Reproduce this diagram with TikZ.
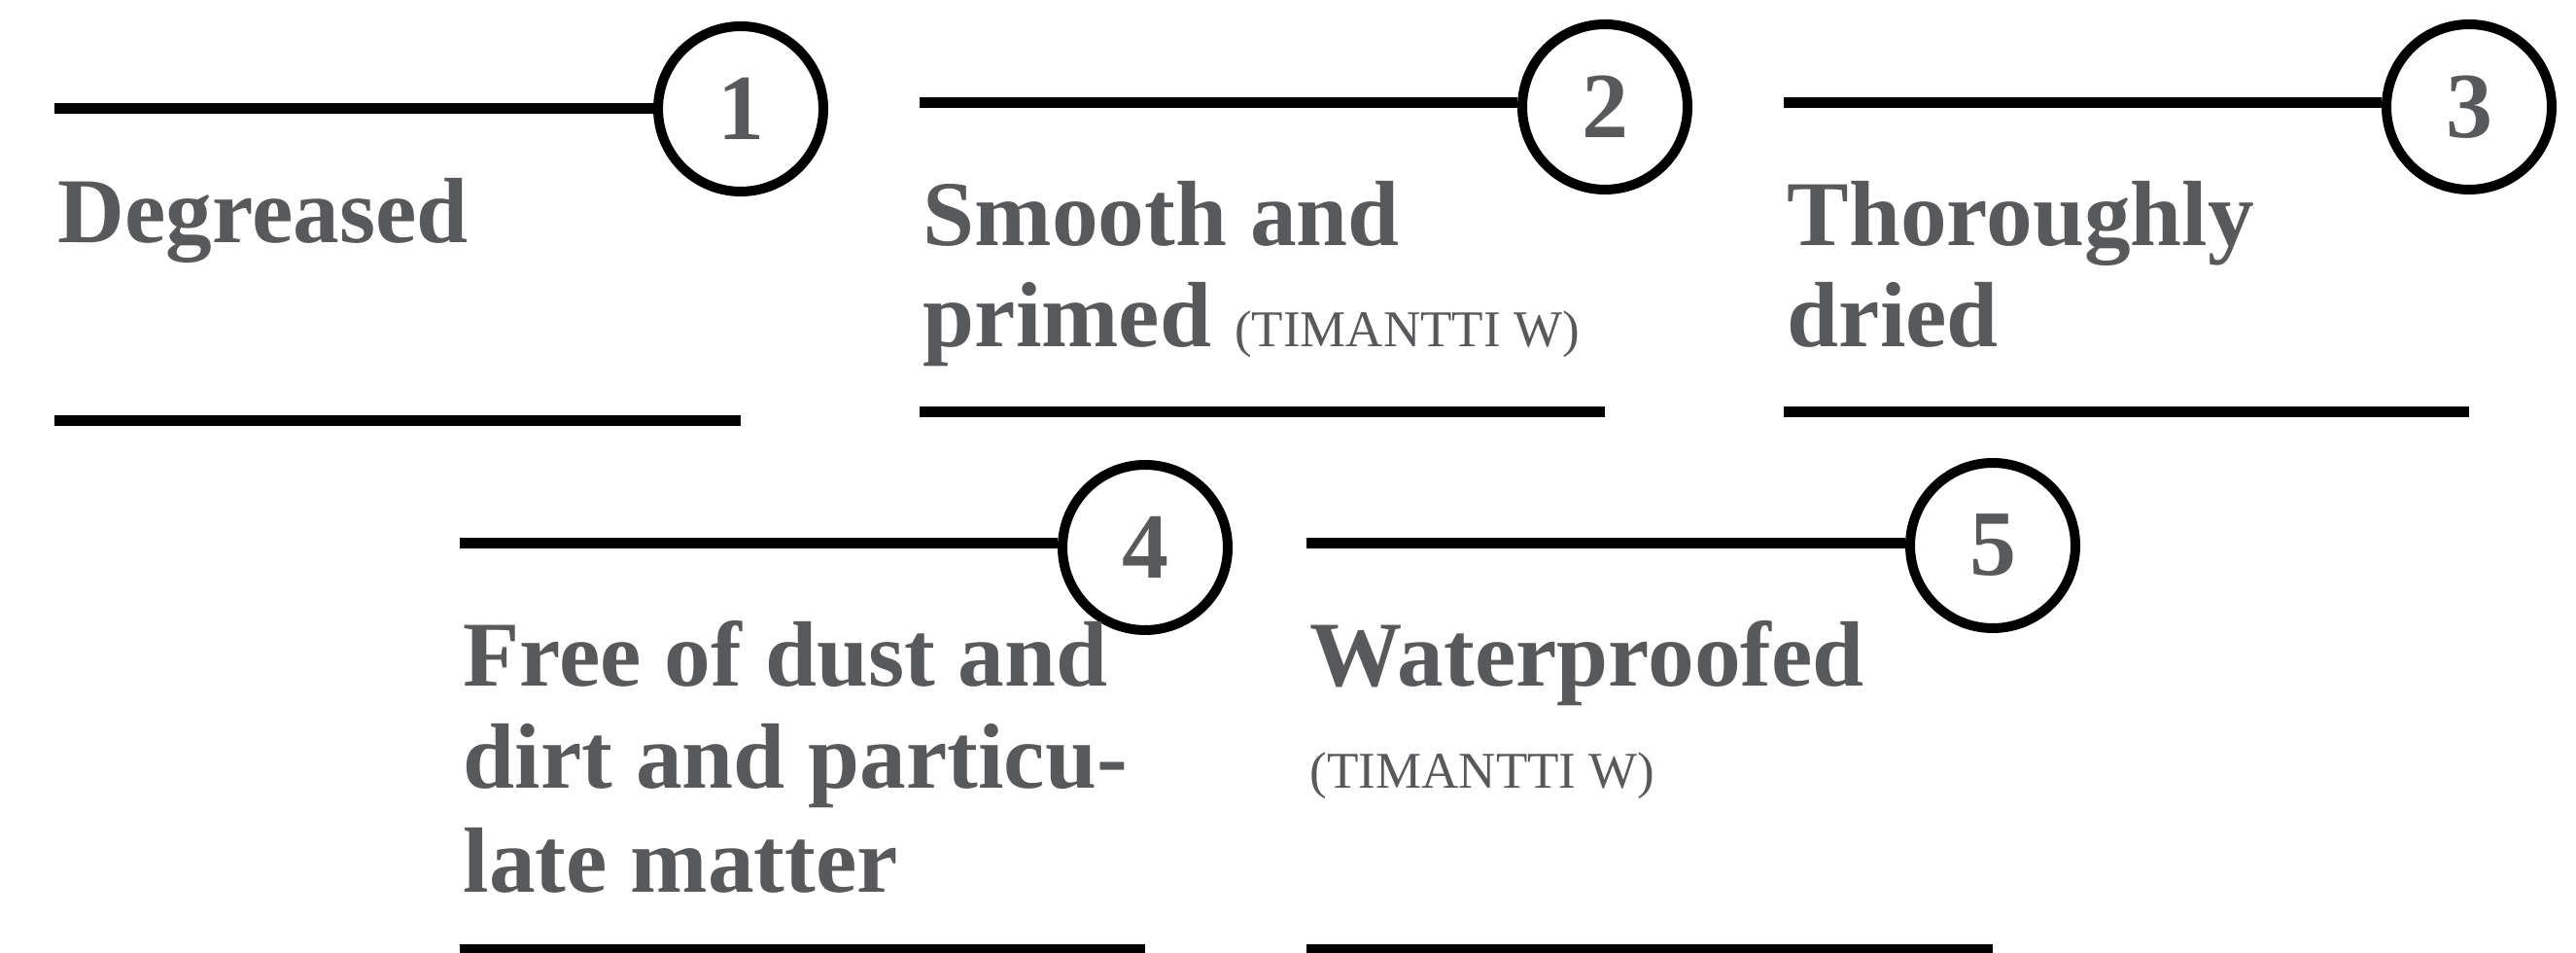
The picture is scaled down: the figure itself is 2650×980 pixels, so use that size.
\documentclass[tikz,border=0pt]{standalone}
\usepackage{fontspec}
\setmainfont{Liberation Serif}
\definecolor{txtgray}{HTML}{58595B}
\begin{document}
\begin{tikzpicture}[x=0.3pt,y=-0.3pt,
  rule/.style={line width=3.3pt, draw=black},
  numcirc/.style={circle, draw=black, line width=3pt, minimum size=51pt, inner sep=0pt,
    font=\fontsize{28.8}{30}\selectfont\bfseries, text=txtgray},
  headtxt/.style={anchor=base west, inner sep=0pt, font=\fontsize{28.6}{31}\selectfont\bfseries, text=txtgray},
  subtxt/.style={anchor=base west, inner sep=0pt, font=\fontsize{15.9}{17}\selectfont, text=txtgray}]
\useasboundingbox (0,0) rectangle (2650,980);

% circles
\node[numcirc] (c1) at (762,112) {1};
\node[numcirc] (c2) at (1651,110) {2};
\node[numcirc] (c3) at (2540,110) {3};
\node[numcirc] (c4) at (1178,563) {4};
\node[numcirc] (c5) at (2050,561) {5};

% line start points
\coordinate (s1) at (56,112);
\coordinate (s2) at (946,106);
\coordinate (s3) at (1835,106);
\coordinate (s4) at (473,559);
\coordinate (s5) at (1344,559);
\coordinate (b1) at (56,433);
\coordinate (b2) at (946,424);
\coordinate (b3) at (1835,424);
\coordinate (b4) at (473,977);
\coordinate (b5) at (1344,977);

% top rules
\draw[rule] (s1) -- (s1 -| c1.west);
\draw[rule] (s2) -- (s2 -| c2.west);
\draw[rule] (s3) -- (s3 -| c3.west);
\draw[rule] (s4) -- (s4 -| c4.west);
\draw[rule] (s5) -- (s5 -| c5.west);

% bottom rules
\draw[rule] (b1) -- (b1 -| c1);
\draw[rule] (b2) -- (b2 -| c2);
\draw[rule] (b3) -- (b3 -| c3);
\draw[rule] (b4) -- (b4 -| c4);
\draw[rule] (b5) -- (b5 -| c5);

% texts
\node[headtxt] (t1) at (59,250) {Degreased};
\node[headtxt] (t2a) at (949,253) {Smooth and};
\node[headtxt] (t2b) at (949,357) {primed {\fontsize{15.9}{17}\selectfont\mdseries (TIMANTTI W)}};
\node[headtxt] (t3a) at (1838,253) {Thoroughly};
\node[headtxt] (t3b) at (1838,357) {dried};
\node[headtxt] (t4a) at (476,706) {Free of dust and};
\node[headtxt] (t4b) at (476,811) {dirt and particu-};
\node[headtxt] (t4c) at (476,918) {late matter};
\node[headtxt] (t5a) at (1347,706) {Waterproofed};
\node[subtxt] (t5b) at (1347,811) {(TIMANTTI W)};
\end{tikzpicture}
\end{document}
